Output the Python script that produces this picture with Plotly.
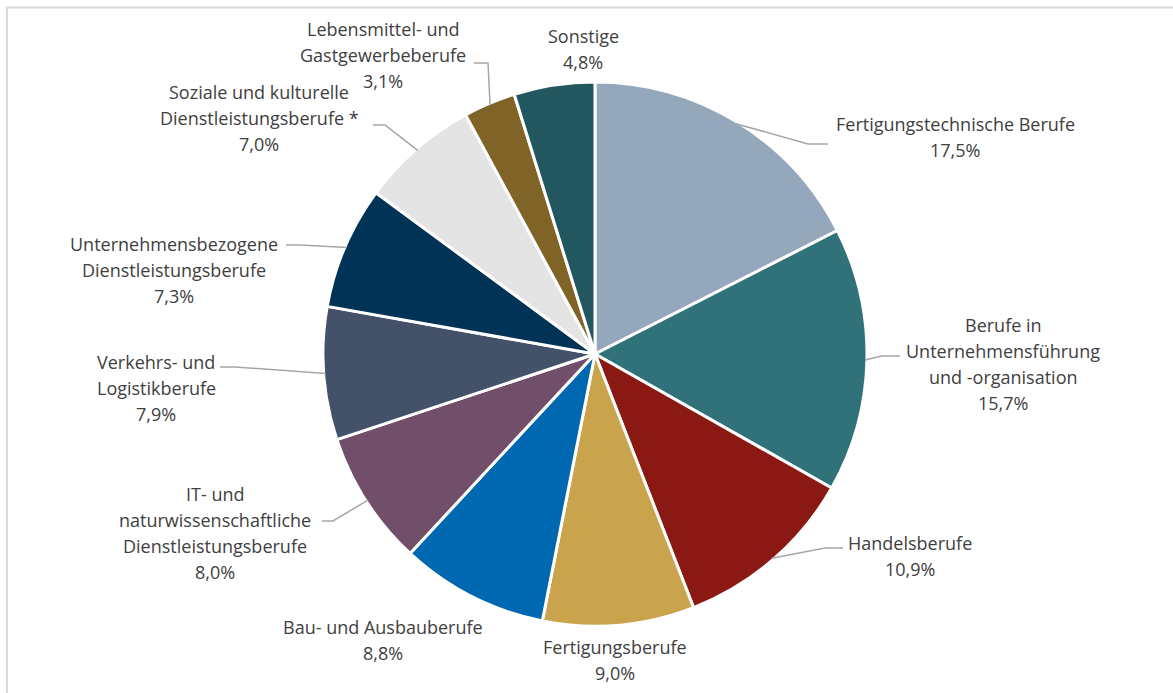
import math
import plotly.graph_objects as go

# Occupational groups (clockwise from 12 o'clock) and their shares in %
categories = [
    "Fertigungstechnische Berufe",
    "Berufe in|Unternehmensführung|und -organisation",
    "Handelsberufe",
    "Fertigungsberufe",
    "Bau- und Ausbauberufe",
    "IT- und|naturwissenschaftliche|Dienstleistungsberufe",
    "Verkehrs- und|Logistikberufe",
    "Unternehmensbezogene|Dienstleistungsberufe",
    "Soziale und kulturelle|Dienstleistungsberufe *",
    "Lebensmittel- und|Gastgewerbeberufe",
    "Sonstige",
]
shares = [17.5, 15.7, 10.9, 9.0, 8.8, 8.0, 7.9, 7.3, 7.0, 3.1, 4.8]

colors = [
    "#95A8BB", "#31727A", "#8A1813", "#C9A44D", "#0068B0", "#714F6A",
    "#435269", "#003355", "#E4E4E4", "#806326", "#235760",
]

W, H = 1173, 693
CX, CY, R = 595, 354, 272          # pie centre and radius in pixels
LINE_H = 26                        # label line spacing in pixels

# Label placement: (centre x, first-line y, leader path points after the slice edge or None)
label_layout = [
    (955, 124, [(808, 144), (828, 144)]),
    (1003, 325, [(882, 356), (900, 356)]),
    (910, 543, [(825, 548), (843, 548)]),
    (615, 647, None),
    (383, 627, None),
    (215, 494, [(333, 521), (322, 521)]),
    (156, 362, [(235, 367), (220, 367)]),
    (174, 244, [(300, 245), (286, 245)]),
    (259, 92, [(385, 125), (373, 125)]),
    (383, 29, [(488, 63), (474, 63)]),
    (583, 36, None),
]


def px(x):
    return x / W


def py(y):
    return 1 - y / H


fig = go.Figure(
    go.Pie(
        labels=[c.replace("|", " ") for c in categories],
        values=shares,
        sort=False,
        direction="clockwise",
        rotation=0,
        textinfo="none",
        hoverinfo="label+percent",
        marker=dict(colors=colors, line=dict(color="white", width=3)),
        domain=dict(x=[px(CX - R), px(CX + R)], y=[py(CY + R), py(CY - R)]),
        showlegend=False,
    )
)

annotations = []
shapes = []
total = sum(shares)
cum = 0.0
for name, val, (lx, ly, leader) in zip(categories, shares, label_layout):
    mid = (cum + val / 2) / total * 2 * math.pi
    cum += val
    lines = name.split("|") + [f"{val:.1f}".replace(".", ",") + "%"]
    for i, t in enumerate(lines):
        annotations.append(dict(
            x=px(lx), y=py(ly + i * LINE_H), xref="paper", yref="paper",
            text=t, showarrow=False, xanchor="center", yanchor="middle",
            font=dict(family="Open Sans", size=18, color="#404040"),
        ))
    if leader:
        sx = CX + (R - 2) * math.sin(mid)
        sy = CY - (R - 2) * math.cos(mid)
        pts = [(sx, sy)] + leader
        path = "M " + " L ".join(f"{px(x):.5f},{py(y):.5f}" for x, y in pts)
        shapes.append(dict(type="path", path=path, xref="paper", yref="paper",
                           line=dict(color="#A6A6A6", width=1.5)))

# Chart frame (top and left edges)
shapes.append(dict(type="line", xref="paper", yref="paper",
                   x0=px(6), x1=1, y0=py(7.5), y1=py(7.5),
                   line=dict(color="#D9D9D9", width=2)))
shapes.append(dict(type="line", xref="paper", yref="paper",
                   x0=px(7), x1=px(7), y0=py(7), y1=0,
                   line=dict(color="#D9D9D9", width=2)))

fig.update_layout(
    width=W, height=H,
    margin=dict(l=0, r=0, t=0, b=0),
    paper_bgcolor="white", plot_bgcolor="white",
    annotations=annotations, shapes=shapes,
)

fig.write_html("out.html")
